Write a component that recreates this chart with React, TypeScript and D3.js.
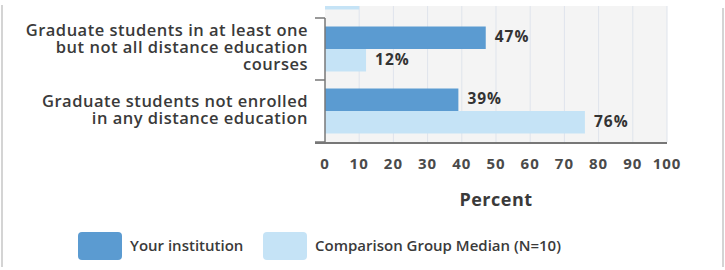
import React, { useEffect, useRef } from 'react';
import * as d3 from 'd3';

// Chart values (the first category is cut off at the top of the picture)
const categories = [
  'Graduate students in some distance education',
  'Graduate students in at least one but not all distance education courses',
  'Graduate students not enrolled in any distance education',
];
const categoryLines: string[][] = [
  [],
  ['Graduate students in at least one', 'but not all distance education', 'courses'],
  ['Graduate students not enrolled', 'in any distance education'],
];
const seriesNames = ['Your institution', 'Comparison Group Median (N=10)'];
const institutionValues = [14, 47, 39];
const comparisonValues = [10, 12, 76];
const xTicks = [0, 10, 20, 30, 40, 50, 60, 70, 80, 90, 100];

const colors = ['#5b9bd1', '#c5e3f6'];

export default function App() {
  const ref = useRef<SVGSVGElement | null>(null);

  useEffect(() => {
    if (!ref.current) return;
    const svg = d3.select(ref.current);
    svg.selectAll('*').remove();

    const width = 725;
    const height = 270;
    const left = 325;
    const right = 667;
    const visibleTop = 6;
    const bottom = 142;
    const font = '"Open Sans", "DejaVu Sans", sans-serif';

    svg.attr('width', width).attr('height', height);

    // frame edges
    svg.append('line').attr('x1', 2).attr('x2', 2).attr('y1', 5).attr('y2', 267)
      .attr('stroke', '#d4d4d4').attr('stroke-width', 2);
    svg.append('line').attr('x1', 723).attr('x2', 723).attr('y1', 8).attr('y2', 267)
      .attr('stroke', '#d4d4d4').attr('stroke-width', 2);

    const x = d3.scaleLinear().domain([0, 100]).range([left, right]);
    const y = d3.scaleBand<string>().domain(categories).range([bottom - 62 * categories.length, bottom]);
    const ySub = d3.scaleBand<string>().domain(seriesNames).range([8.5, 62 - 8.5]);

    const defs = svg.append('defs');
    defs.append('clipPath').attr('id', 'plot-clip')
      .append('rect').attr('x', 0).attr('y', visibleTop).attr('width', width).attr('height', bottom - visibleTop + 1);

    const plot = svg.append('g').attr('clip-path', 'url(#plot-clip)');

    plot.append('rect')
      .attr('x', left).attr('y', visibleTop)
      .attr('width', right - left).attr('height', bottom - visibleTop)
      .attr('fill', '#f4f4f4');

    plot.selectAll('line.grid')
      .data(xTicks.slice(1))
      .join('line')
      .attr('class', 'grid')
      .attr('x1', d => x(d)).attr('x2', d => x(d))
      .attr('y1', visibleTop).attr('y2', bottom)
      .attr('stroke', '#dfe4ec').attr('stroke-width', 1);

    const rows = categories.map((c, i) => ({
      c,
      vals: [institutionValues[i], comparisonValues[i]],
    }));

    const groups = plot.selectAll('g.row')
      .data(rows)
      .join('g')
      .attr('class', 'row')
      .attr('transform', d => `translate(0,${y(d.c)})`);

    groups.selectAll('rect')
      .data(d => d.vals.map((v, j) => ({ v, s: seriesNames[j], j })))
      .join('rect')
      .attr('x', left)
      .attr('y', d => ySub(d.s)!)
      .attr('width', d => x(d.v) - left)
      .attr('height', ySub.bandwidth())
      .attr('fill', d => colors[d.j]);

    // value labels, only where the label itself is inside the visible plot
    groups.selectAll('text')
      .data(d => d.vals.map((v, j) => ({ v, s: seriesNames[j], c: d.c }))
        .filter(e => y(e.c)! + ySub(e.s)! > visibleTop))
      .join('text')
      .attr('x', d => x(d.v) + 9)
      .attr('y', d => ySub(d.s)! + ySub.bandwidth() / 2 - 1)
      .attr('dy', '0.35em')
      .attr('fill', '#333')
      .style('font-family', font)
      .style('font-size', '15.5px')
      .style('font-weight', 'bold')
      .style('letter-spacing', '1px')
      .text(d => `${d.v}%`);

    // category axis
    const axisColor = '#777';
    svg.append('line').attr('x1', left).attr('x2', left).attr('y1', visibleTop + 12).attr('y2', bottom + 1)
      .attr('stroke', axisColor).attr('stroke-width', 1.5);
    svg.selectAll('line.ctick')
      .data(categories)
      .join('line')
      .attr('class', 'ctick')
      .attr('x1', left - 10).attr('x2', left)
      .attr('y1', d => y(d)! + 62).attr('y2', d => y(d)! + 62)
      .attr('stroke', axisColor).attr('stroke-width', 1.5);

    const lineH = 17;
    svg.append('g').selectAll('text.cat')
      .data(categories.map((c, i) => ({ c, lines: categoryLines[i] })).filter(d => d.lines.length))
      .join('text')
      .attr('class', 'cat')
      .attr('text-anchor', 'end')
      .attr('fill', '#3a3a3a')
      .style('font-family', font)
      .style('font-size', '16.5px')
      .style('font-weight', 600)
      .style('letter-spacing', '0.5px')
      .each(function (d) {
        const n = d.lines.length;
        const cy = y(d.c)! + 62 / 2 - 1.5;
        d3.select(this).selectAll('tspan')
          .data(d.lines)
          .join('tspan')
          .attr('x', 308)
          .attr('y', (_, k) => cy + (k - (n - 1) / 2) * lineH)
          .attr('dy', '0.35em')
          .text(t => t);
      });

    // value axis
    svg.append('line').attr('x1', left - 10).attr('x2', right).attr('y1', bottom + 1).attr('y2', bottom + 1)
      .attr('stroke', axisColor).attr('stroke-width', 2);

    svg.selectAll('text.xtick')
      .data(xTicks)
      .join('text')
      .attr('class', 'xtick')
      .attr('x', d => x(d))
      .attr('y', 164)
      .attr('dy', '0.35em')
      .attr('text-anchor', 'middle')
      .attr('fill', '#4a4a4a')
      .style('font-family', font)
      .style('font-size', '15px')
      .style('font-weight', 'bold')
      .style('letter-spacing', '1px')
      .text(d => String(d));

    svg.append('text')
      .attr('x', (left + right) / 2)
      .attr('y', 200)
      .attr('dy', '0.35em')
      .attr('text-anchor', 'middle')
      .attr('fill', '#3a3a3a')
      .style('font-family', font)
      .style('font-size', '18px')
      .style('font-weight', 'bold')
      .style('letter-spacing', '0.5px')
      .text('Percent');

    // legend
    const legendX = [78, 263];
    const legend = svg.selectAll('g.legend')
      .data(seriesNames)
      .join('g')
      .attr('class', 'legend')
      .attr('transform', (_, i) => `translate(${legendX[i]},232)`);
    legend.append('rect')
      .attr('width', 44).attr('height', 28).attr('rx', 4)
      .attr('fill', (_, i) => colors[i]);
    legend.append('text')
      .attr('x', 52).attr('y', 14).attr('dy', '0.35em')
      .attr('fill', '#3a3a3a')
      .style('font-family', font)
      .style('font-size', '15px')
      .style('font-weight', 600)
      .text(d => d);
  }, []);

  return (
    <div style={{ position: 'absolute', left: 0, top: 0, width: 725, height: 270, background: '#fff' }}>
      <svg ref={ref} />
    </div>
  );
}
